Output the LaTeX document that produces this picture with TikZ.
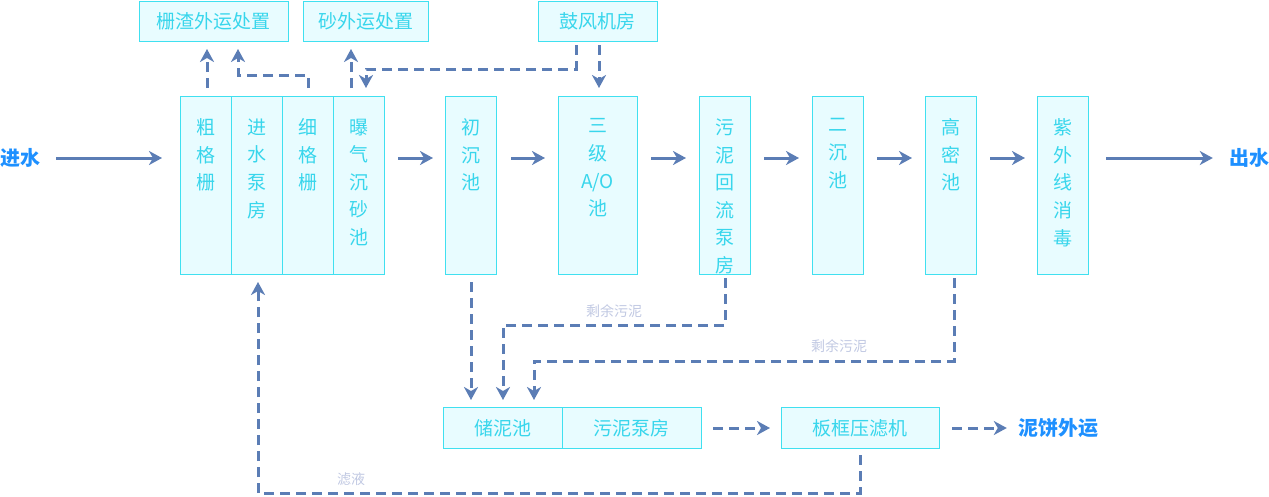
\documentclass[tikz,border=0pt]{standalone}
\usepackage{fontspec}
\newfontfamily\cjk{Noto Sans CJK SC}
\usetikzlibrary{arrows.meta}
\definecolor{boxline}{RGB}{64,224,240}
\definecolor{boxfill}{RGB}{232,252,255}
\definecolor{txtc}{RGB}{56,214,236}
\definecolor{arrc}{RGB}{91,125,181}
\definecolor{bluel}{RGB}{30,144,255}
\definecolor{grayl}{RGB}{192,200,226}
\begin{document}
\begin{tikzpicture}[x=1pt,y=-1pt,
  box/.style={draw=boxline, fill=boxfill, line width=1pt, inner sep=0pt, anchor=north west},
  vt/.style={anchor=north, inner sep=0pt, align=center, text=txtc, font=\cjk\fontsize{19}{27.6}\selectfont},
  ht/.style={inner sep=0pt, text=txtc, font=\cjk\fontsize{19}{22}\selectfont},
  endlbl/.style={inner sep=0pt, text=bluel, font=\cjk\bfseries\fontsize{20}{22}\selectfont},
  small/.style={inner sep=0pt, text=grayl, font=\cjk\fontsize{14}{16}\selectfont},
  arr/.style={draw=arrc, line width=3pt, -{Stealth[length=13pt,width=14pt,inset=4pt]}},
  dsh/.style={dash pattern=on 10pt off 6pt}]
\useasboundingbox (0,0) rectangle (1269,496);
% top boxes
\node[box, minimum width=149pt, minimum height=40pt] (zz) at (139,1) {};
\node[ht] (zzt) at (213.5,21) {栅渣外运处置};
\node[box, minimum width=125pt, minimum height=40pt] (sw) at (303,1) {};
\node[ht] (swt) at (365.5,21) {砂外运处置};
\node[box, minimum width=119pt, minimum height=40pt] (gf) at (538,1) {};
\node[ht] (gft) at (597.5,21) {鼓风机房};
% main boxes
\node[box, minimum width=51pt, minimum height=178pt] (b1) at (180,96) {};
\node[box, minimum width=51pt, minimum height=178pt] (b2) at (231,96) {};
\node[box, minimum width=51pt, minimum height=178pt] (b3) at (282,96) {};
\node[box, minimum width=51pt, minimum height=178pt] (b4) at (333,96) {};
\node[box, minimum width=51pt, minimum height=178pt] (b5) at (445,96) {};
\node[box, minimum width=79pt, minimum height=178pt] (b6) at (558,96) {};
\node[box, minimum width=51pt, minimum height=178pt] (b7) at (699,96) {};
\node[box, minimum width=51pt, minimum height=178pt] (b8) at (812,96) {};
\node[box, minimum width=51pt, minimum height=178pt] (b9) at (925,96) {};
\node[box, minimum width=51pt, minimum height=178pt] (b10) at (1037,96) {};
\node[vt] (t1) at (205.5,118.5) {粗\\格\\栅};
\node[vt] (t2) at (256.5,118.5) {进\\水\\泵\\房};
\node[vt] (t3) at (307.5,118.5) {细\\格\\栅};
\node[vt] (t4) at (358.5,118.5) {曝\\气\\沉\\砂\\池};
\node[vt] (t5) at (470.5,118.5) {初\\沉\\池};
\node[vt] (t6) at (597.5,118.5) {三\\级\\A/O\\池};
\node[vt] (t7) at (724.5,118.5) {污\\泥\\回\\流\\泵\\房};
\node[vt] (t8) at (837.5,118.5) {二\\沉\\池};
\node[vt] (t9) at (950.5,118.5) {高\\密\\池};
\node[vt] (t10) at (1062.5,118.5) {紫\\外\\线\\消\\毒};
% bottom boxes
\node[box, minimum width=119pt, minimum height=41pt] (cn) at (443,407) {};
\node[ht] (cnt) at (502.5,428) {储泥池};
\node[box, minimum width=139pt, minimum height=41pt] (wb) at (562,407) {};
\node[ht] (wbt) at (631.5,428) {污泥泵房};
\node[box, minimum width=158pt, minimum height=41pt] (bk) at (781,407) {};
\node[ht] (bkt) at (860,428) {板框压滤机};
% end labels
\node[endlbl] (jin) at (20,158) {进水};
\node[endlbl] (chu) at (1249,158) {出水};
\node[endlbl] (nb) at (1058,428) {泥饼外运};
\coordinate (ym) at (0,158);
% main flow arrows
\draw[arr] ([xshift=16pt]jin.east |- ym) -- ([xshift=-18pt]b1.west |- ym);
\draw[arr] ([xshift=13pt]b4.east |- ym) -- ([xshift=-12pt]b5.west |- ym);
\draw[arr] ([xshift=14pt]b5.east |- ym) -- ([xshift=-13pt]b6.west |- ym);
\draw[arr] ([xshift=13pt]b6.east |- ym) -- ([xshift=-13pt]b7.west |- ym);
\draw[arr] ([xshift=13pt]b7.east |- ym) -- ([xshift=-13pt]b8.west |- ym);
\draw[arr] ([xshift=13pt]b8.east |- ym) -- ([xshift=-13pt]b9.west |- ym);
\draw[arr] ([xshift=13pt]b9.east |- ym) -- ([xshift=-12pt]b10.west |- ym);
\draw[arr] ([xshift=17pt]b10.east |- ym) -- ([xshift=-16pt]chu.west |- ym);
% top dashed
\draw[arr,dsh] (207,88) -- (207,49);
\draw[arr,dsh] (308,88) -- (308,75) -- (238,75) -- (238,49);
\draw[arr,dsh] (351,88) -- (351,49);
\draw[arr,dsh] (576,45) -- (576,69) -- (366,69) -- (366,88);
\draw[arr,dsh] (599,45) -- (599,88);
% bottom dashed
\draw[arr,dsh] (471,282) -- (471,400);
\draw[arr,dsh] (725,278) -- (725,325) -- (503,325) -- (503,400);
\draw[arr,dsh] (954,278) -- (954,361) -- (534,361) -- (534,400);
\draw[arr,dsh] ([xshift=11pt]wb.east) -- ([xshift=-11pt]bk.west);
\draw[arr,dsh] ([xshift=12pt]bk.east) -- ([xshift=-11pt]nb.west);
\draw[arr,dsh] (860,455) -- (860,493) -- (258,493) -- (258,282);
% small labels
\node[small] (l1) at (614,311) {剩余污泥};
\node[small] (l2) at (839,346) {剩余污泥};
\node[small] (l3) at (351,479) {滤液};
\end{tikzpicture}
\end{document}
